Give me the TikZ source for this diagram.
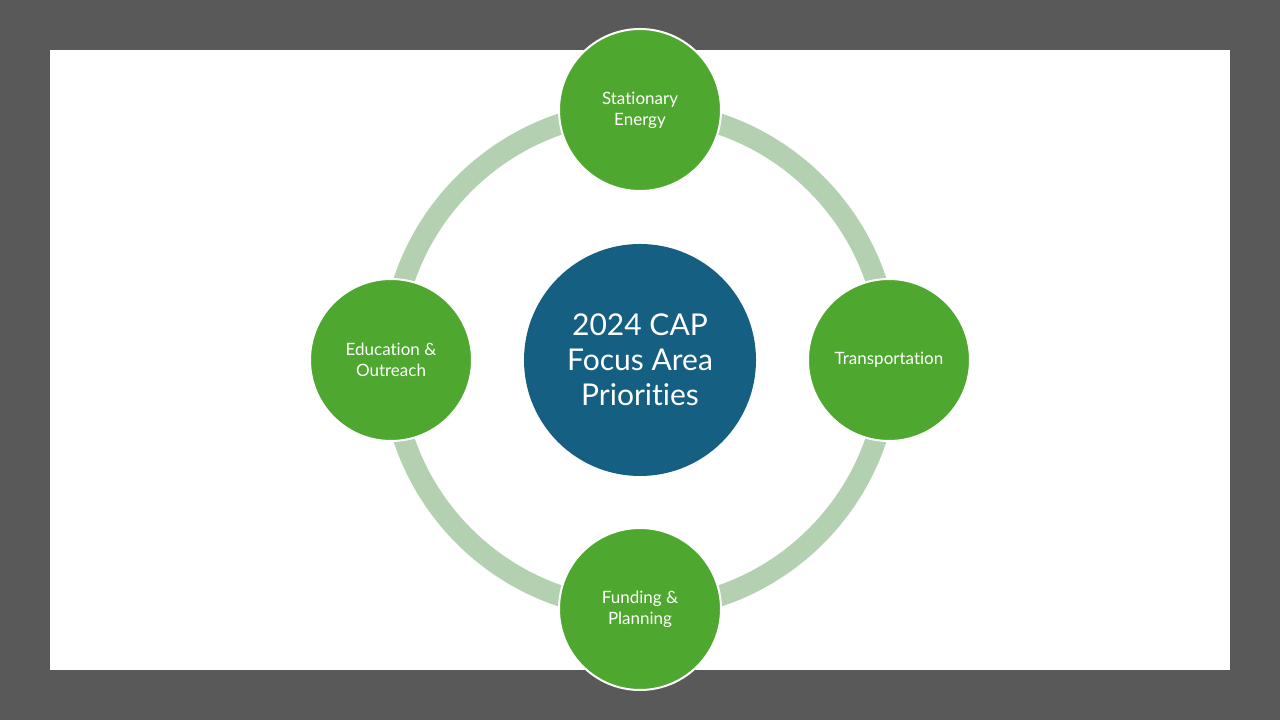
\documentclass[tikz,border=0pt]{standalone}
\usepackage{fontspec}
\setmainfont{Lato}[Ligatures={NoCommon}]
\usetikzlibrary{positioning}
\definecolor{framegray}{HTML}{595959}
\definecolor{ringgreen}{HTML}{B3D0B1}
\definecolor{areagreen}{HTML}{4EA72E}
\definecolor{hubblue}{HTML}{156082}

\begin{document}
\begin{tikzpicture}[x=1pt,y=1pt,
	area/.style={circle, fill=areagreen, draw=white, line width=2pt, minimum size=162pt, inner sep=0pt, text=white, align=center, font=\fontsize{17}{21}\selectfont},
	hub/.style={circle, fill=hubblue, minimum size=232pt, inner sep=0pt, text=white, align=center, font=\fontsize{30}{35}\selectfont}]
			%%%%% FRAME %%%%%
			\useasboundingbox (0, 0) rectangle (1280, 720);
			\fill[framegray] (0, 0) rectangle (1280, 720);
			\fill[white] (50, 50) rectangle (1230, 670);
			
			%%%%% RING %%%%%
			\draw[ringgreen, line width=21pt] (640, 360) circle (249);
			
			%%%%% NODES %%%%%
			\node[hub] (hub) at (640, 360) {2024 CAP\\Focus Area\\Priorities};
			
			\node[area] (energy) at (640, 610) {Stationary\\Energy};
			\node[area] (transport) at (889, 360) {Transportation};
			\node[area] (funding) at (640, 111) {Funding \&\\Planning};
			\node[area] (outreach) at (391, 360) {Education \&\\Outreach};
		\end{tikzpicture}
\end{document}
